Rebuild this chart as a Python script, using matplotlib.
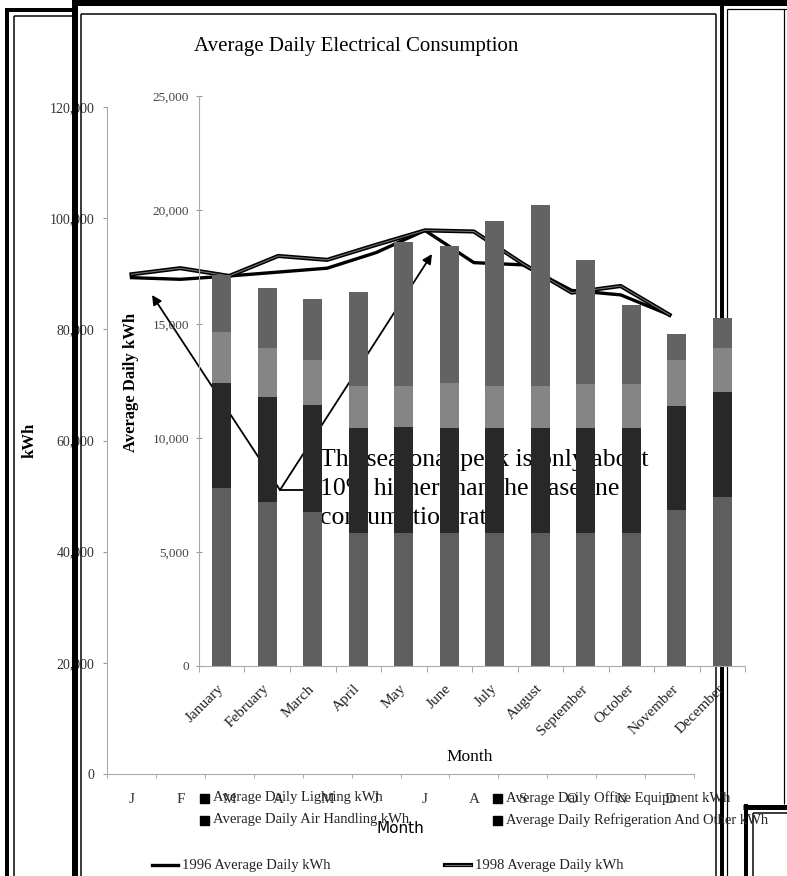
import matplotlib
matplotlib.use('Agg')
import matplotlib.pyplot as plt
import matplotlib.patheffects as pe
import matplotlib.transforms as mtransforms
from matplotlib.lines import Line2D
from matplotlib.patches import Rectangle
from matplotlib.ticker import FuncFormatter
import numpy as np

months = ['January', 'February', 'March', 'April', 'May', 'June', 'July',
          'August', 'September', 'October', 'November', 'December']
month_initials = ['J', 'F', 'M', 'A', 'M', 'J', 'J', 'A', 'S', 'O', 'N', 'D']

# stacked bars, average daily kWh (front chart)
lighting = [7800, 7200, 6750, 5850, 5850, 5850, 5850, 5850, 5850, 5850, 6850, 7400]
office = [4600, 4600, 4700, 4600, 4650, 4600, 4600, 4600, 4600, 4600, 4550, 4600]
air_handling = [2250, 2150, 1950, 1850, 1800, 1950, 1850, 1850, 1900, 1900, 2000, 1950]
refrigeration = [2500, 2650, 2700, 4100, 6300, 6000, 7200, 7900, 5450, 3500, 1150, 1300]

# lines on the chart behind (kWh scale 0 - 120,000)
kwh_1996 = [89300, 89000, 89600, 90300, 91000, 93800, 97800, 92000, 91600, 87000, 86200, 82600]
kwh_1998 = [89900, 91000, 89600, 93200, 92500, 95200, 97800, 97600, 91800, 86600, 87800, 82600]

SERIF = 'Liberation Serif'
W, H = 787, 876


def fx(x):
    return x / W


def fy(y):
    return 1 - y / H


fig = plt.figure(figsize=(W / 100, H / 100), dpi=100)
fig.patch.set_facecolor('white')

comma = FuncFormatter(lambda v, p: '{:,.0f}'.format(v))
x = np.arange(12)

# ---- back chart ----
ax_back = fig.add_axes([fx(107), fy(774), 587 / W, 667 / H])
ax_back.set_zorder(1)
ax_back.plot(x, kwh_1996, color='black', lw=2.4)
ax_back.plot(x, kwh_1998, color='#6e6e6e', lw=0.8,
             path_effects=[pe.Stroke(linewidth=3.0, foreground='black'), pe.Normal()])
ax_back.set_xlim(-0.5, 11.5)
ax_back.set_ylim(0, 120000)
ax_back.set_yticks(np.arange(0, 120001, 20000))
ax_back.yaxis.set_major_formatter(comma)
ax_back.set_xticks(x)
ax_back.set_xticklabels(month_initials, fontsize=11, family=SERIF, color='#333333')
ax_back.set_xticks(np.arange(-0.5, 12, 1), minor=True)
ax_back.tick_params(axis='x', which='major', length=0, pad=14)
ax_back.tick_params(axis='x', which='minor', length=3, color='#999999')
ax_back.tick_params(axis='y', length=3, color='#999999', pad=6, labelsize=10)
for lab in ax_back.get_yticklabels():
    lab.set_family(SERIF)
    lab.set_color('#333333')
for s in ['top', 'right']:
    ax_back.spines[s].set_visible(False)
for s in ['left', 'bottom']:
    ax_back.spines[s].set_color('#aaaaaa')
    ax_back.spines[s].set_linewidth(0.8)
ax_back.set_ylabel('kWh', family=SERIF, fontsize=12, fontweight='bold')
ax_back.yaxis.set_label_coords((38 - 107) / 587, 0.5)
ax_back.set_xlabel('Month', family='DejaVu Sans', fontsize=11)
ax_back.xaxis.set_label_coords(0.5, (774 - 821) / 667)

# callout behind the bars
arrow_kw = dict(arrowstyle='-|>', color='black', lw=1.3, mutation_scale=14,
                shrinkA=0, shrinkB=0)
ax_back.annotate('', xy=(fx(152), fy(295)), xytext=(fx(280), fy(490)),
                 xycoords='figure fraction', textcoords='figure fraction',
                 arrowprops=arrow_kw)
ax_back.annotate('', xy=(fx(432), fy(254)), xytext=(fx(280), fy(490)),
                 xycoords='figure fraction', textcoords='figure fraction',
                 arrowprops=arrow_kw)
ax_back.add_line(Line2D([fx(280), fx(318)], [fy(490), fy(490)],
                        transform=fig.transFigure, color='black', lw=1.3))
ax_back.text(fx(320), fy(449),
             'The seasonal peak is only about\n10% higher than the baseline\nconsumption rate.',
             transform=fig.transFigure, ha='left', va='top', fontsize=18.5,
             family=SERIF, linespacing=1.42)

# ---- frames from the pasted objects ----
def frame_line(x0, y0, x1, y1, px):
    fig.add_artist(Line2D([fx(x0), fx(x1)], [fy(y0), fy(y1)], transform=fig.transFigure,
                          color='black', lw=px * 0.72, zorder=2,
                          solid_capstyle='butt'))


frame_line(6.5, 8, 6.5, 876, 4)
frame_line(14, 16, 14, 876, 1.5)
frame_line(5, 10, 75, 10, 4)
frame_line(14, 16, 75, 16, 1.5)
frame_line(75, 0, 75, 876, 6)
frame_line(81, 14, 81, 876, 1.5)
frame_line(72, 3, 787, 3, 6)
frame_line(81, 14, 716, 14, 1.5)
frame_line(716, 14, 716, 876, 1.5)
frame_line(721.5, 0, 721.5, 876, 4)
frame_line(727, 9, 787, 9, 1.2)
frame_line(727, 9, 727, 876, 1.2)
frame_line(784, 9, 784, 804, 1.2)
frame_line(745.5, 804, 745.5, 876, 4)
frame_line(743, 806.5, 787, 806.5, 5)
frame_line(753, 813, 753, 876, 1.5)
frame_line(753, 813, 787, 813, 1.5)

# ---- front chart ----
ax_front = fig.add_axes([fx(199), fy(666), 546 / W, 570 / H])
ax_front.set_zorder(3)
ax_front.patch.set_visible(False)
bw = 0.42
bottom = np.zeros(12)
for vals, col in [(lighting, '#5e5e5e'), (office, '#282828'),
                  (air_handling, '#858585'), (refrigeration, '#636363')]:
    ax_front.bar(x, vals, bw, bottom=bottom, color=col, linewidth=0)
    bottom += np.array(vals)
ax_front.set_xlim(-0.5, 11.5)
ax_front.set_ylim(0, 25000)
ax_front.set_yticks(np.arange(0, 25001, 5000))
ax_front.yaxis.set_major_formatter(comma)
ax_front.set_xticks(x)
ax_front.set_xticklabels(months, rotation=45, ha='right', va='center',
                         rotation_mode='anchor', fontsize=11, family=SERIF,
                         color='#222222')
shift = mtransforms.ScaledTranslation(-0.07, 0, fig.dpi_scale_trans)
for lab in ax_front.get_xticklabels():
    lab.set_transform(lab.get_transform() + shift)
ax_front.set_xticks(np.arange(-0.5, 12, 1), minor=True)
ax_front.tick_params(axis='x', which='major', length=0, pad=15)
ax_front.tick_params(axis='x', which='minor', length=4, color='#999999')
ax_front.tick_params(axis='y', length=4, direction='inout', color='#999999',
                     pad=5, labelsize=9.5)
for lab in ax_front.get_yticklabels():
    lab.set_family(SERIF)
    lab.set_color('#444444')
for s in ['top', 'right']:
    ax_front.spines[s].set_visible(False)
for s in ['left', 'bottom']:
    ax_front.spines[s].set_color('#aaaaaa')
    ax_front.spines[s].set_linewidth(0.8)
ax_front.set_ylabel('Average Daily kWh', family=SERIF, fontsize=12, fontweight='bold')
ax_front.yaxis.set_label_coords((139 - 199) / 546, 0.498)
ax_front.set_xlabel('Month', family=SERIF, fontsize=12.5)
ax_front.xaxis.set_label_coords(0.496, (666 - 749) / 570)

fig.text(fx(356), fy(47), 'Average Daily Electrical Consumption', ha='center',
         va='center', fontsize=15, family=SERIF, zorder=5)

# ---- legend ----
legend_boxes = [('Average Daily Lighting kWh', 200, 798),
                ('Average Daily Air Handling kWh', 200, 820),
                ('Average Daily Office Equipment kWh', 493, 798),
                ('Average Daily Refrigeration And Other kWh', 493, 820)]
for label, lx, ly in legend_boxes:
    fig.add_artist(Rectangle((fx(lx), fy(ly + 4.5)), 9 / W, 9 / H,
                             transform=fig.transFigure, color='black', zorder=5))
    fig.text(fx(lx + 13), fy(ly), label, ha='left', va='center', fontsize=10.5,
             family=SERIF, color='#222222', zorder=5)

fig.add_artist(Line2D([fx(152), fx(178)], [fy(865), fy(865)], transform=fig.transFigure,
                      color='black', lw=2.4, zorder=5))
fig.text(fx(182), fy(865), '1996 Average Daily kWh', ha='left', va='center',
         fontsize=10.5, family=SERIF, color='#222222', zorder=5)
fig.add_artist(Line2D([fx(445), fx(471)], [fy(865), fy(865)], transform=fig.transFigure,
                      color='#6e6e6e', lw=0.8, zorder=5,
                      path_effects=[pe.Stroke(linewidth=3.0, foreground='black'), pe.Normal()]))
fig.text(fx(475), fy(865), '1998 Average Daily kWh', ha='left', va='center',
         fontsize=10.5, family=SERIF, color='#222222', zorder=5)

fig.savefig('out.png', dpi=100)
